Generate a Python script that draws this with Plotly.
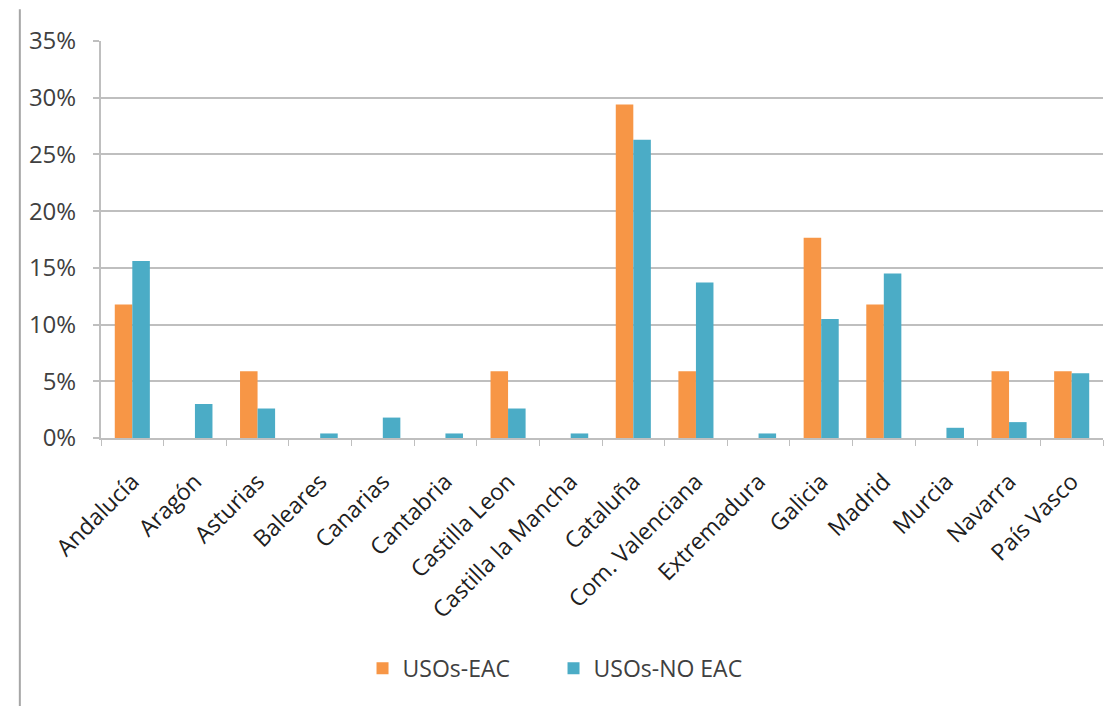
import plotly.graph_objects as go

regions = ["Andalucía", "Aragón", "Asturias", "Baleares", "Canarias", "Cantabria",
           "Castilla Leon", "Castilla la Mancha", "Cataluña", "Com. Valenciana",
           "Extremadura", "Galicia", "Madrid", "Murcia", "Navarra", "País Vasco"]
usos_eac = [0.1176, 0, 0.0588, 0, 0, 0, 0.0588, 0, 0.2941, 0.0588, 0, 0.1765, 0.1176, 0, 0.0588, 0.0588]
usos_no_eac = [0.156, 0.030, 0.026, 0.004, 0.018, 0.004, 0.026, 0.004, 0.263, 0.137, 0.004, 0.105, 0.145, 0.009, 0.014, 0.057]
y_ticks = [0, 0.05, 0.10, 0.15, 0.20, 0.25, 0.30, 0.35]

font_family = "Open Sans, DejaVu Sans, sans-serif"
text_color = "#404040"

fig = go.Figure()
fig.add_trace(go.Bar(x=regions, y=usos_eac, name="USOs-EAC",
                     marker=dict(color="#F79646", line=dict(width=0))))
fig.add_trace(go.Bar(x=regions, y=usos_no_eac, name="USOs-NO EAC",
                     marker=dict(color="#4BACC6", line=dict(width=0))))

fig.update_layout(
    width=1117, height=706,
    margin=dict(l=101, r=14, t=41, b=268),
    paper_bgcolor="white", plot_bgcolor="white",
    barmode="group", bargap=0.44, bargroupgap=0,
    font=dict(family=font_family, color=text_color, size=21),
    showlegend=True,
    legend=dict(orientation="h", x=0.261, xanchor="left", y=-0.58, yanchor="middle",
                font=dict(size=23, color=text_color), traceorder="normal",
                itemsizing="constant", entrywidth=146, entrywidthmode="pixels"),
    xaxis=dict(type="category", tickangle=-45, showgrid=False,
               showline=True, linecolor="#BFBFBF", linewidth=2,
               ticks="outside", tickson="boundaries", ticklen=6, tickcolor="#BFBFBF",
               tickwidth=1, ticklabelstandoff=19,
               tickfont=dict(size=23, color="#202020")),
    yaxis=dict(range=[0, 0.35], tickvals=y_ticks, tickformat=".0%",
               showgrid=True, gridcolor="#BFBFBF", gridwidth=2,
               showline=True, linecolor="#BFBFBF", linewidth=2,
               ticks="outside", ticklen=6, tickcolor="#BFBFBF", tickwidth=2,
               ticklabelstandoff=12,
               tickfont=dict(size=24, color=text_color), zeroline=False),
)
# outer chart-area border on the left
fig.add_shape(type="line", xref="paper", yref="paper",
              x0=-0.081, x1=-0.081, y0=-0.675, y1=1.08,
              line=dict(color="#A6A6A6", width=2))

fig.write_html("out.html")
